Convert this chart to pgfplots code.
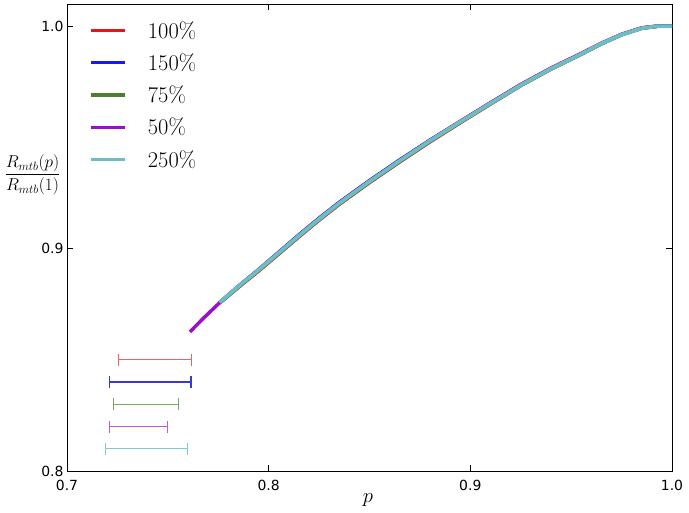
\documentclass[border=0pt]{standalone}
\usepackage{fontspec}
\usepackage{amsmath}
\usepackage{pgfplots}
\pgfplotsset{compat=1.18}
\newfontfamily\dejavu{DejaVu Sans}
\definecolor{cred}{HTML}{E01818}
\definecolor{cblue}{HTML}{1818F0}
\definecolor{cgreen}{HTML}{4A8030}
\definecolor{cpurple}{HTML}{9A10C8}
\definecolor{ccyan}{HTML}{6CBFC0}
\definecolor{ered}{HTML}{E06868}
\definecolor{eblue}{HTML}{3838E0}
\definecolor{egreen}{HTML}{78A860}
\definecolor{epurple}{HTML}{C058E0}
\definecolor{ecyan}{HTML}{80CCCC}
\begin{document}
\begin{tikzpicture}
\useasboundingbox (-67bp,-42bp) rectangle (622bp,471bp);
\begin{axis}[
  scale only axis,
  width=605bp, height=467bp,
  xmin=0.7, xmax=1.0, ymin=0.8, ymax=1.01,
  xtick={0.7,0.8,0.9,1.0}, ytick={0.8,0.9,1.0},
  tick align=inside, tick pos=both,
  major tick length=6bp,
  axis line style={line width=0.9bp},
  every tick/.style={black, line width=0.7bp},
  /pgf/number format/assume math mode=true,
  xticklabel style={yshift=-6bp, /pgf/number format/.cd, fixed, fixed zerofill, precision=1},
  yticklabel style={/pgf/number format/.cd, fixed, fixed zerofill, precision=1},
  ticklabel style={font=\dejavu\fontsize{14}{14}\selectfont},
  xlabel={$p$},
  xlabel style={font=\fontsize{22}{22}\selectfont, at={(axis description cs:0.4975,0)}, anchor=north, yshift=-19bp},
  ylabel={$\dfrac{R_{mtb}(p)}{R_{mtb}(1)}$},
  ylabel style={rotate=-90, font=\fontsize{16.5}{16.5}\selectfont, at={(axis description cs:-0.057,0.634)}, anchor=center},
  legend cell align=left,
  legend style={draw=none, fill=none, at={(axis description cs:0.032,0.972)}, anchor=north west,
    font=\fontsize{22.5}{22.5}\selectfont, row sep=10bp, column sep=19bp},
  legend image code/.code={\draw[#1, line width=3.4bp] (0bp,0bp) -- (34bp,0bp);},
]
% horizontal interval bars
\addplot[ered, line width=1.1bp, mark=|, mark size=6bp, forget plot] coordinates {(0.7256,0.85) (0.7617,0.85)};
\addplot[eblue, line width=1.1bp, mark=|, mark size=6bp, forget plot] coordinates {(0.7210,0.84) (0.7615,0.84)};
\addplot[egreen, line width=1.1bp, mark=|, mark size=6bp, forget plot] coordinates {(0.7231,0.83) (0.7553,0.83)};
\addplot[epurple, line width=1.1bp, mark=|, mark size=6bp, forget plot] coordinates {(0.7210,0.82) (0.7498,0.82)};
\addplot[ecyan, line width=1.1bp, mark=|, mark size=6bp, forget plot] coordinates {(0.7190,0.81) (0.7596,0.81)};
% curves
\addplot[cred, line width=3.5bp, no marks] coordinates {
(0.7757,0.8755) (0.7850,0.8826) (0.7950,0.8899) (0.8050,0.8976) (0.8150,0.9053) (0.8250,0.9128)
(0.8350,0.9199) (0.8500,0.9297) (0.8650,0.9390) (0.8800,0.9480) (0.8950,0.9566) (0.9100,0.9650)
(0.9250,0.9733) (0.9400,0.9807) (0.9550,0.9874) (0.9650,0.9921) (0.9750,0.9962) (0.9850,0.9992)
(0.9925,1.0000) (1.0,1.0)};
\addlegendentry{100\%}
\addplot[cblue, line width=3.5bp, no marks] coordinates {
(0.7757,0.8758) (0.7850,0.8831) (0.7950,0.8906) (0.8050,0.8984) (0.8150,0.9062) (0.8250,0.9137)
(0.8350,0.9208) (0.8500,0.9306) (0.8650,0.9399) (0.8800,0.9488) (0.8950,0.9572) (0.9100,0.9655)
(0.9250,0.9737) (0.9400,0.9810) (0.9550,0.9876) (0.9650,0.9922) (0.9750,0.9962) (0.9850,0.9991)
(0.9925,1.0000) (1.0,1.0)};
\addlegendentry{150\%}
\addplot[cgreen, line width=3.5bp, no marks] coordinates {
(0.7757,0.8756) (0.7850,0.8827) (0.7950,0.8901) (0.8050,0.8978) (0.8150,0.9055) (0.8250,0.9130)
(0.8350,0.9201) (0.8500,0.9299) (0.8650,0.9392) (0.8800,0.9482) (0.8950,0.9568) (0.9100,0.9651)
(0.9250,0.9734) (0.9400,0.9808) (0.9550,0.9874) (0.9650,0.9921) (0.9750,0.9962) (0.9850,0.9991)
(0.9925,1.0000) (1.0,1.0)};
\addlegendentry{75\%}
\addplot[cpurple, line width=3.5bp, no marks] coordinates {
(0.7610,0.8626) (0.7680,0.8690) (0.7757,0.8757) (0.7850,0.8830) (0.7950,0.8904) (0.8050,0.8981) (0.8150,0.9059)
(0.8250,0.9134) (0.8350,0.9205) (0.8500,0.9303) (0.8650,0.9396) (0.8800,0.9486) (0.8950,0.9572)
(0.9100,0.9656) (0.9250,0.9738) (0.9400,0.9812) (0.9550,0.9878) (0.9650,0.9924) (0.9750,0.9964)
(0.9850,0.9993) (0.9925,1.0000) (1.0,1.0)};
\addlegendentry{50\%}
\addplot[ccyan, line width=3.8bp, no marks] coordinates {
(0.7757,0.8758) (0.7850,0.8830) (0.7950,0.8904) (0.8050,0.8981) (0.8150,0.9058) (0.8250,0.9133)
(0.8350,0.9204) (0.8500,0.9302) (0.8650,0.9395) (0.8800,0.9485) (0.8950,0.9570) (0.9100,0.9653)
(0.9250,0.9735) (0.9400,0.9809) (0.9550,0.9875) (0.9650,0.9922) (0.9750,0.9962) (0.9850,0.9991)
(0.9925,1.0000) (1.0,1.0)};
\addlegendentry{250\%}
\end{axis}
\end{tikzpicture}
\end{document}
